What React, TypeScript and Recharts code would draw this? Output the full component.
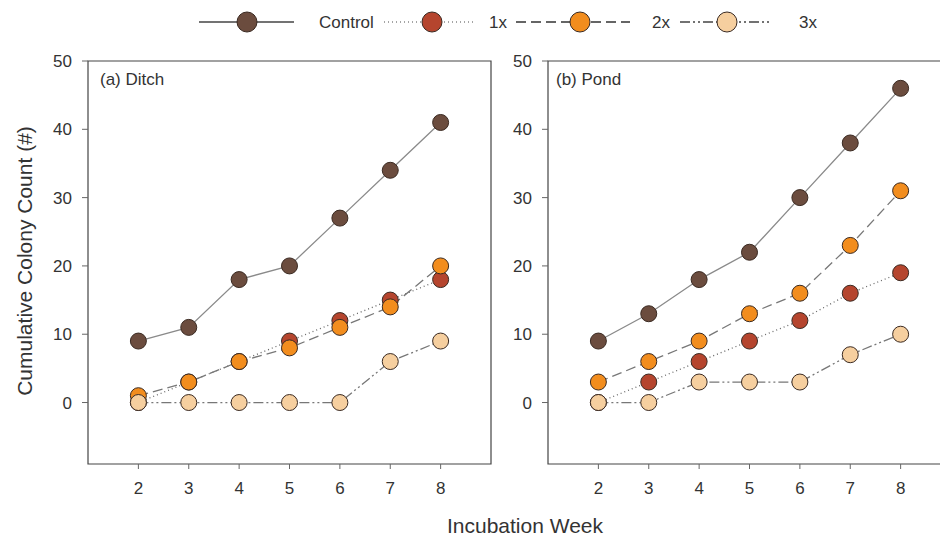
import * as React from 'react';
import { LineChart, Line, XAxis, YAxis, ReferenceArea } from 'recharts';

const weeks = [2, 3, 4, 5, 6, 7, 8];

// (a) Ditch
const ditchControl = [9, 11, 18, 20, 27, 34, 41];
const ditch1x = [0, 3, 6, 9, 12, 15, 18];
const ditch2x = [1, 3, 6, 8, 11, 14, 20];
const ditch3x = [0, 0, 0, 0, 0, 6, 9];

// (b) Pond
const pondControl = [9, 13, 18, 22, 30, 38, 46];
const pond1x = [0, 3, 6, 9, 12, 16, 19];
const pond2x = [3, 6, 9, 13, 16, 23, 31];
const pond3x = [0, 0, 3, 3, 3, 7, 10];

const yTicks = [0, 10, 20, 30, 40, 50];

const FONT = '"Liberation Sans", Arial, sans-serif';
const TEXT = '#333';

const series = [
  { key: 'control', name: 'Control', fill: '#6b4c3e', line: '#8a8a8a', dash: undefined, legendLine: '#444' },
  { key: 'x1', name: '1x', fill: '#b5452e', line: '#666', dash: '1 3', legendLine: '#888' },
  { key: 'x2', name: '2x', fill: '#f28d1e', line: '#777', dash: '10 5', legendLine: '#333' },
  { key: 'x3', name: '3x', fill: '#f6cf9f', line: '#777', dash: '10 3 2 3 2 3', legendLine: '#444' },
];

function buildRows(control: number[], a: number[], b: number[], c: number[]) {
  return weeks.map((w, i) => ({ week: w, control: control[i], x1: a[i], x2: b[i], x3: c[i] }));
}

const ditchRows = buildRows(ditchControl, ditch1x, ditch2x, ditch3x);
const pondRows = buildRows(pondControl, pond1x, pond2x, pond3x);

function Panel({ data }: { data: any[] }) {
  return (
    <LineChart width={500} height={536} data={data} margin={{ top: 61, right: 9, bottom: 32, left: 38 }}>
      <XAxis
        dataKey="week"
        type="number"
        domain={[1, 9]}
        ticks={weeks}
        allowDataOverflow
        height={40}
        axisLine={false}
        tickSize={5}
        tickMargin={13}
        tickLine={{ stroke: '#666' }}
        tick={{ fill: TEXT, fontSize: 17, fontFamily: FONT }}
      />
      <YAxis
        type="number"
        domain={[-9, 50]}
        ticks={yTicks}
        allowDataOverflow
        width={50}
        axisLine={false}
        tickSize={6}
        tickMargin={10}
        tickLine={{ stroke: '#666' }}
        tick={{ fill: TEXT, fontSize: 17, fontFamily: FONT }}
      />
      <ReferenceArea x1={1} x2={9} y1={-9} y2={50} fill="none" stroke="#444" strokeWidth={1.2} />
      {series.map((s) => (
        <Line
          key={s.key}
          dataKey={s.key}
          type="linear"
          stroke={s.line}
          strokeWidth={1.3}
          strokeDasharray={s.dash}
          dot={{ r: 8, fill: s.fill, stroke: '#3a2a22', strokeWidth: 1, fillOpacity: 1, strokeDasharray: 'none' }}
          activeDot={false}
          isAnimationActive={false}
        />
      ))}
    </LineChart>
  );
}

const legendPos = [
  { x0: 199, x1: 294, mx: 247, tx: 319 },
  { x0: 384, x1: 474, mx: 432, tx: 489 },
  { x0: 516, x1: 630, mx: 580, tx: 652 },
  { x0: 680, x1: 772, mx: 727, tx: 799 },
];

export default function App() {
  return (
    <div
      style={{
        position: 'fixed',
        left: 0,
        top: 0,
        width: 940,
        height: 536,
        overflow: 'hidden',
        background: '#fff',
        fontFamily: FONT,
      }}
    >
      <div style={{ position: 'absolute', left: 0, top: 0 }}>
        <Panel data={ditchRows} />
      </div>
      <div style={{ position: 'absolute', left: 460, top: 0 }}>
        <Panel data={pondRows} />
      </div>
      <svg width={940} height={536} style={{ position: 'absolute', left: 0, top: 0, pointerEvents: 'none' }}>
        {series.map((s, i) => {
          const p = legendPos[i];
          return (
            <g key={s.key}>
              <line x1={p.x0} x2={p.x1} y1={22} y2={22} stroke={s.legendLine} strokeWidth={1.3} strokeDasharray={s.dash} />
              <circle cx={p.mx} cy={22} r={10} fill={s.fill} stroke="#3a2a22" strokeWidth={1} />
              <text x={p.tx} y={28} fill={TEXT} fontSize={17} fontFamily={FONT}>
                {s.name}
              </text>
            </g>
          );
        })}
        <text x={100} y={85} fill={TEXT} fontSize={17} fontFamily={FONT}>(a) Ditch</text>
        <text x={556} y={85} fill={TEXT} fontSize={17} fontFamily={FONT}>(b) Pond</text>
        <text
          x={0}
          y={0}
          transform="translate(32 261) rotate(-90)"
          textAnchor="middle"
          fill={TEXT}
          fontSize={21}
          fontFamily={FONT}
        >
          Cumulative Colony Count (#)
        </text>
        <text x={525} y={533} textAnchor="middle" fill={TEXT} fontSize={21} fontFamily={FONT}>
          Incubation Week
        </text>
      </svg>
    </div>
  );
}
